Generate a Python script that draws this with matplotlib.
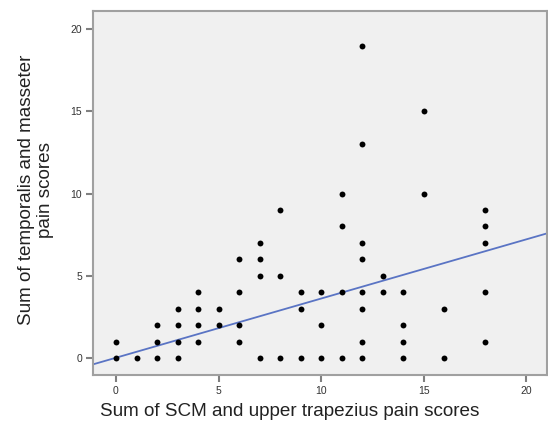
import matplotlib.pyplot as plt
import numpy as np

# SCM + upper trapezius score (x) vs temporalis + masseter score (y)
scm_trap = [0, 0, 1, 2, 2, 2, 3, 3, 3, 3, 4, 4, 4, 4, 5, 5,
            6, 6, 6, 6, 7, 7, 7, 7, 8, 8, 8, 9, 9, 9, 10, 10, 10,
            11, 11, 11, 11, 12, 12, 12, 12, 12, 12, 12, 12,
            13, 13, 14, 14, 14, 14, 15, 15, 16, 16, 18, 18, 18, 18, 18]
temp_mass = [0, 1, 0, 0, 1, 2, 0, 1, 2, 3, 1, 2, 3, 4, 2, 3,
             1, 2, 4, 6, 0, 5, 6, 7, 0, 5, 9, 0, 3, 4, 0, 2, 4,
             0, 4, 8, 10, 0, 1, 3, 4, 6, 7, 13, 19,
             4, 5, 0, 1, 2, 4, 10, 15, 0, 3, 1, 4, 7, 8, 9]

# fit line as drawn in the original figure
fit_intercept = 0.02
fit_slope = 0.36

ticks = [0, 5, 10, 15, 20]

plt.rcParams["font.family"] = ["Liberation Sans", "DejaVu Sans"]

fig = plt.figure(figsize=(5.48, 4.32), dpi=100)
ax = fig.add_axes([93 / 548, 57 / 432, 454 / 548, 364 / 432])
ax.set_facecolor("#f0f0f0")

ax.scatter(scm_trap, temp_mass, s=18, color="black", zorder=3, linewidths=0)

xl = np.array([-1.12, 21.0])
ax.plot(xl, fit_intercept + fit_slope * xl, color="#5a74c4", lw=1.3, zorder=2)

ax.set_xlim(-1.12, 21.0)
ax.set_ylim(-1.03, 21.1)
ax.set_xticks(ticks)
ax.set_yticks(ticks)
ax.tick_params(direction="out", length=5, width=1.5, color="#808080",
               labelsize=7.5, labelcolor="#333333", pad=3)

for sp in ax.spines.values():
    sp.set_color("#a0a0a0")
    sp.set_linewidth(1.5)

fig.text(290 / 548, 1 - 411 / 432, "Sum of SCM and upper trapezius pain scores",
         ha="center", va="center", fontsize=13.6, color="#222222")
fig.text(36 / 548, 1 - 190 / 432, "Sum of temporalis and masseter\npain scores",
         ha="center", va="center", rotation=90, fontsize=13.6, color="#222222",
         multialignment="center", linespacing=1.15)

fig.savefig("out.png", dpi=100)
